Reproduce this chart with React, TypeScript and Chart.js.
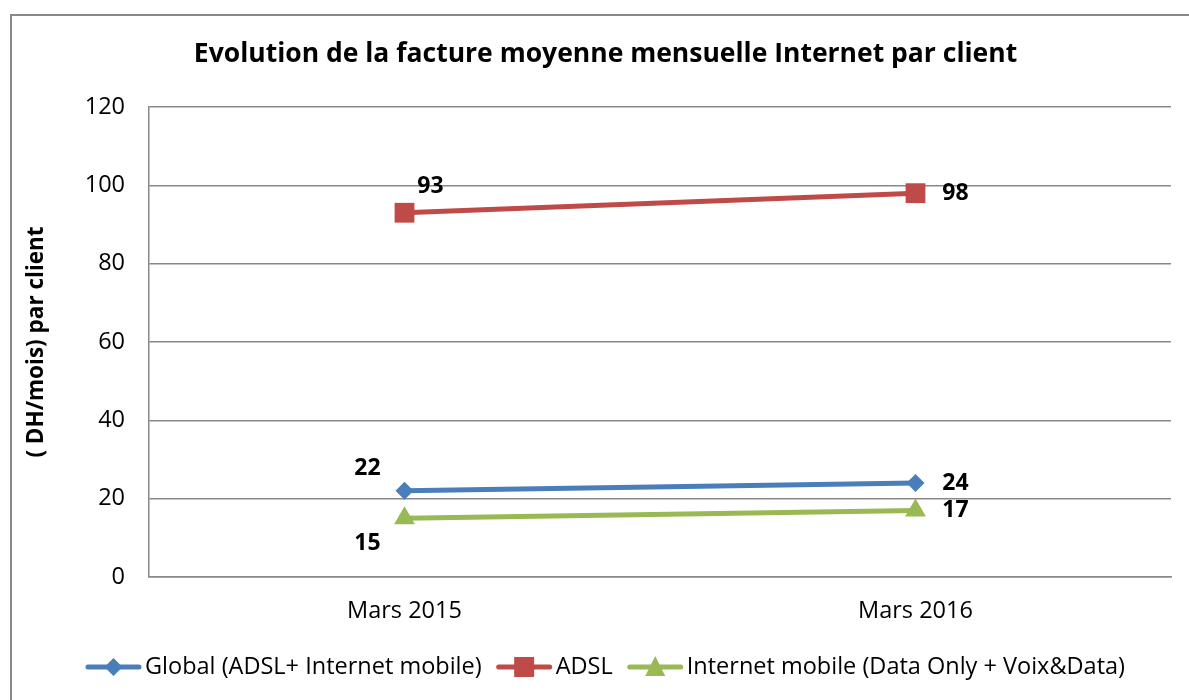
import React, { useEffect, useRef } from "react";
import { Chart, registerables } from "chart.js";

Chart.register(...registerables);

const categories = ["Mars 2015", "Mars 2016"];
const globalValues = [22, 24];
const adslValues = [93, 98];
const mobileValues = [15, 17];
const yMin = 0;
const yMax = 120;
const yStep = 20;
const seriesNames = [
  "Global (ADSL+ Internet mobile)",
  "ADSL",
  "Internet mobile (Data Only + Voix&Data)",
];
const chartTitle = "Evolution de la facture moyenne mensuelle Internet par client";
const yAxisTitle = "( DH/mois) par client";

const FONT = "'Open Sans'";
const TEXT_SIZE = 23.5;
const COLORS = ["#4A7EBB", "#BE4B48", "#98B954"];
const MARKERS = ["diamond", "square", "triangle"];
// label offsets (pixels) per series per point
const LABEL_OFFSETS = [
  [[-37, -22], [40, 0]],
  [[26, -26], [40, 0]],
  [[-37, 25], [40, 0]],
];
const W = 1189;
const H = 700;
const CENTER_X = 605.5;

function drawMarker(ctx: CanvasRenderingContext2D, kind: string, x: number, y: number, color: string) {
  ctx.save();
  ctx.fillStyle = color;
  ctx.beginPath();
  if (kind === "diamond") {
    const r = 9;
    ctx.moveTo(x, y - r);
    ctx.lineTo(x + r, y);
    ctx.lineTo(x, y + r);
    ctx.lineTo(x - r, y);
  } else if (kind === "square") {
    const s = 10;
    ctx.rect(x - s, y - s, 2 * s, 2 * s);
  } else {
    const hw = 10;
    ctx.moveTo(x, y - 11);
    ctx.lineTo(x + hw, y + 9);
    ctx.lineTo(x - hw, y + 9);
  }
  ctx.closePath();
  ctx.fill();
  ctx.restore();
}

const decorPlugin = {
  id: "decor",
  beforeDraw(chart: any) {
    const ctx = chart.ctx as CanvasRenderingContext2D;
    ctx.save();
    ctx.fillStyle = "#ffffff";
    ctx.fillRect(0, 0, W, H);
    ctx.strokeStyle = "#888888";
    ctx.lineWidth = 2;
    ctx.strokeRect(11, 15, 1190, 700);
    // title
    ctx.fillStyle = "#000";
    ctx.font = `bold 26.5px ${FONT}`;
    ctx.textAlign = "center";
    ctx.textBaseline = "middle";
    ctx.fillText(chartTitle, CENTER_X, 54);
    ctx.restore();
  },
  afterDatasetsDraw(chart: any) {
    const ctx = chart.ctx as CanvasRenderingContext2D;
    ctx.save();
    ctx.fillStyle = "#000";
    ctx.font = `bold 23px ${FONT}`;
    ctx.textAlign = "center";
    ctx.textBaseline = "middle";
    chart.data.datasets.forEach((ds: any, di: number) => {
      const meta = chart.getDatasetMeta(di);
      meta.data.forEach((pt: any, i: number) => {
        const off = LABEL_OFFSETS[di][i];
        ctx.fillText(String(ds.data[i]), pt.x + off[0], pt.y + off[1]);
      });
    });
    ctx.restore();
  },
  afterDraw(chart: any) {
    const ctx = chart.ctx as CanvasRenderingContext2D;
    ctx.save();
    ctx.font = `${TEXT_SIZE}px ${FONT}`;
    ctx.textBaseline = "middle";
    ctx.textAlign = "left";
    const seg = 55;
    const gapText = 4;
    const gapItem = 15;
    const widths = seriesNames.map((n) => ctx.measureText(n).width);
    const total = widths.reduce((a, w) => a + seg + gapText + w, 0) + gapItem * (seriesNames.length - 1);
    let x = CENTER_X - total / 2;
    const y = 667;
    seriesNames.forEach((name, i) => {
      ctx.strokeStyle = COLORS[i];
      ctx.lineWidth = 5;
      ctx.lineCap = "round";
      ctx.beginPath();
      ctx.moveTo(x + 2, y);
      ctx.lineTo(x + seg - 2, y);
      ctx.stroke();
      drawMarker(ctx, MARKERS[i], x + seg / 2, y, COLORS[i]);
      ctx.fillStyle = "#000";
      ctx.fillText(name, x + seg + gapText, y);
      x += seg + gapText + widths[i] + gapItem;
    });
    ctx.restore();
  },
};

export default function App() {
  const ref = useRef<HTMLCanvasElement | null>(null);
  useEffect(() => {
    if (!ref.current) return;
    const pointStyles = ["rectRot", "rect", "triangle"];
    const radii = [9, 14, 12];
    const datasets = [globalValues, adslValues, mobileValues].map((vals, i) => ({
      label: seriesNames[i],
      data: vals,
      borderColor: COLORS[i],
      backgroundColor: COLORS[i],
      borderWidth: 5,
      pointStyle: pointStyles[i],
      pointRadius: radii[i],
      pointBorderWidth: 0,
      pointBackgroundColor: COLORS[i],
      tension: 0,
    }));
    const chart = new Chart(ref.current, {
      type: "line",
      data: { labels: categories, datasets },
      plugins: [decorPlugin],
      options: {
        responsive: false,
        animation: false,
        layout: { padding: { left: 10, top: 107, right: 18, bottom: 73 } },
        plugins: { legend: { display: false }, title: { display: false }, tooltip: { enabled: false } },
        scales: {
          x: {
            offset: true,
            grid: { display: false, drawTicks: false },
            border: { display: true, color: "#888888", width: 1.5 },
            ticks: { color: "#000", font: { family: FONT, size: TEXT_SIZE }, padding: 20 },
            afterFit: (s: any) => { s.height = 50; },
          },
          y: {
            min: yMin,
            max: yMax,
            ticks: { stepSize: yStep, color: "#000", font: { family: FONT, size: TEXT_SIZE }, padding: 24 },
            grid: { color: "#888888", lineWidth: 1.5, drawTicks: false },
            border: { display: true, color: "#888888", width: 1.5 },
            title: {
              display: true,
              text: yAxisTitle,
              color: "#000",
              font: { family: FONT, size: 22.5, weight: "bold" },
              padding: { top: 13, bottom: 0 },
            },
            afterFit: (s: any) => { s.width = 139; },
          },
        },
      },
    });
    return () => chart.destroy();
  }, []);
  return (
    <div style={{ position: "absolute", left: 0, top: 0, width: W, height: H }}>
      <canvas ref={ref} width={W} height={H} style={{ width: W, height: H, display: "block" }} />
    </div>
  );
}
